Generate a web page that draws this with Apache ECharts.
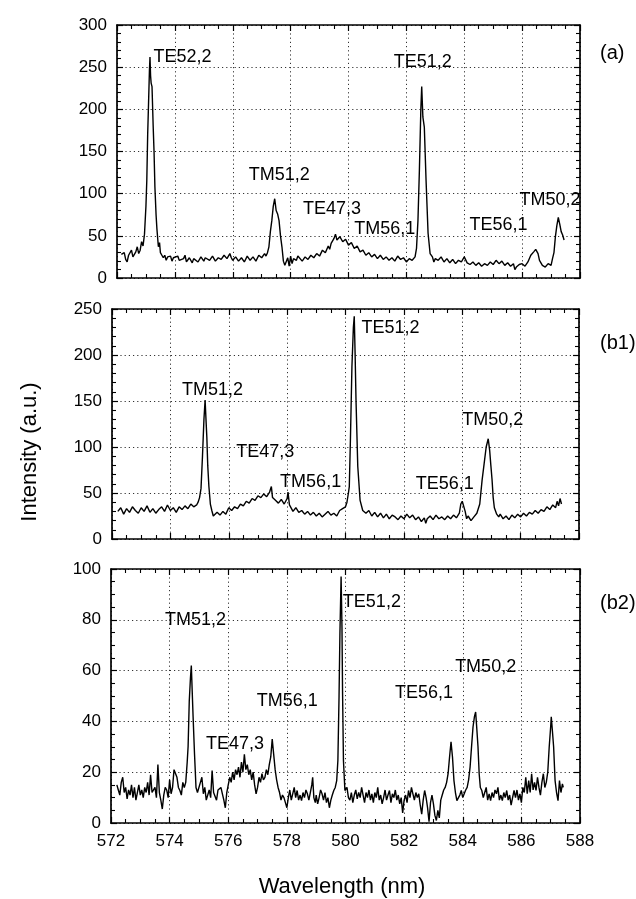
<!DOCTYPE html>
<html><head><meta charset="utf-8">
<script src="https://cdn.jsdelivr.net/npm/echarts@6/dist/echarts.min.js"></script>
<style>html,body{margin:0;padding:0;background:#fff}#c{width:636px;height:899px}</style>
</head><body><div id="c"></div>
<script>
// ---------- data ----------
const xTicks = [572, 574, 576, 578, 580, 582, 584, 586, 588];
const yTicksA = [0, 50, 100, 150, 200, 250, 300];
const yTicksB1 = [0, 50, 100, 150, 200, 250];
const yTicksB2 = [0, 20, 40, 60, 80, 100];

// panel (a): [wavelength nm, intensity]
const specA = [
[572.15,28],[572.2,27],[572.25,30],[572.3,22],[572.35,19],[572.4,27],[572.45,29],[572.5,33],[572.55,25],[572.6,23],[572.65,31],[572.7,37],[572.75,29],[572.8,33],[572.85,43],[572.9,38],[572.95,52],
[573.0,85],[573.03,116],[573.06,170],[573.09,207],[573.12,245],[573.14,262],[573.16,240],[573.18,231],[573.21,227],[573.25,180],[573.28,150],[573.31,108],[573.35,75],[573.38,58],[573.43,37],[573.47,42],[573.5,30],[573.55,27],[573.6,24],[573.65,27],[573.7,21],[573.75,25],[573.8,23],[573.85,26],[573.9,20],[573.95,24],[574.0,22],
[574.1,26],[574.15,21],[574.2,20],[574.3,23],[574.35,27],[574.4,19],[574.5,24],[574.6,18],[574.65,23],[574.7,22],[574.8,19],[574.9,25],[575.0,20],[575.05,24],[575.1,23],[575.2,21],[575.3,26],[575.4,20],[575.5,24],[575.6,22],[575.7,27],[575.8,23],[575.9,29],[575.95,24],[576.0,21],[576.1,25],[576.2,20],[576.3,24],[576.4,19],[576.5,26],[576.6,21],[576.7,25],[576.8,20],[576.9,27],[577.0,24],[577.1,29],[577.15,26],[577.2,30],
[577.25,37],[577.3,55],[577.35,68],[577.4,85],[577.45,94],[577.5,80],[577.55,76],[577.6,68],[577.65,50],[577.7,37],[577.75,20],[577.8,15],[577.85,13],[577.9,24],[577.95,14],[578.0,26],[578.05,17],[578.1,23],[578.2,21],[578.25,26],[578.3,26],[578.4,20],[578.5,25],[578.6,22],[578.7,27],[578.8,24],[578.9,29],[579.0,26],[579.1,33],[579.2,30],[579.3,38],[579.35,34],[579.4,41],[579.5,47],[579.55,52],[579.6,45],[579.7,49],[579.8,43],[579.9,46],[580.0,39],[580.1,42],[580.2,35],[580.3,38],[580.4,31],[580.5,33],[580.6,27],[580.7,30],[580.8,25],[580.9,28],[581.0,23],[581.1,27],[581.2,22],[581.3,25],[581.4,21],[581.5,24],[581.6,20],[581.7,26],[581.8,22],[581.9,24],[582.0,19],[582.1,23],[582.2,21],[582.3,25],
[582.35,35],[582.4,68],[582.45,128],[582.5,200],[582.53,227],[582.57,191],[582.62,179],[582.68,116],[582.75,53],[582.82,29],[582.9,25],[582.95,19],[583.0,23],[583.1,21],[583.2,25],[583.3,19],[583.4,23],[583.5,18],[583.6,22],[583.7,17],[583.8,21],[583.9,19],[584.0,25],[584.1,18],[584.2,16],[584.3,19],[584.4,15],[584.5,18],[584.6,14],[584.7,17],[584.8,15],[584.9,19],[585.0,16],[585.1,21],[585.2,17],[585.3,20],[585.4,15],[585.5,18],[585.6,14],[585.7,17],[585.75,10],[585.8,13],[585.9,16],[586.0,17],[586.1,14],[586.2,19],
[586.3,27],[586.4,31],[586.47,34],[586.55,29],[586.6,21],[586.7,15],[586.8,13],[586.9,17],[587.0,15],[587.05,23],[587.1,30],[587.15,49],[587.2,62],[587.25,72],[587.3,64],[587.35,55],[587.4,51],[587.45,45]
];

// panel (b1)
const specB1 = [
[572.2,30],[572.3,34],[572.4,27],[572.5,33],[572.6,29],[572.7,35],[572.8,31],[572.9,28],[573.0,34],[573.1,30],[573.2,36],[573.3,29],[573.4,33],[573.5,28],[573.6,32],[573.7,35],[573.8,30],[573.9,37],[574.0,31],[574.1,34],[574.2,29],[574.3,35],[574.4,32],[574.5,36],[574.6,33],[574.7,38],[574.8,35],[574.9,37],
[574.95,40],[575.0,45],[575.05,55],[575.1,90],[575.15,130],[575.19,151],[575.22,130],[575.25,110],[575.28,80],[575.32,57],[575.37,38],[575.42,31],[575.47,25],[575.52,23],[575.6,29],[575.7,26],[575.8,30],[575.9,27],[576.0,34],[576.1,31],[576.2,35],[576.3,33],[576.4,38],[576.5,36],[576.6,41],[576.7,39],[576.8,44],[576.9,42],[577.0,47],[577.1,45],[577.2,49],[577.3,46],[577.4,51],[577.46,57],[577.5,45],[577.6,42],[577.7,39],[577.8,43],[577.9,38],[578.0,44],[578.03,51],[578.08,37],[578.15,33],[578.2,30],[578.3,34],[578.4,29],[578.5,31],[578.6,27],[578.7,30],[578.8,26],[578.9,29],[579.0,25],[579.1,28],[579.2,24],[579.3,27],[579.4,30],[579.5,26],[579.6,28],[579.7,25],[579.8,31],[579.9,33],[580.0,35],
[580.05,40],[580.1,50],[580.13,57],[580.17,110],[580.22,187],[580.27,230],[580.3,242],[580.33,200],[580.36,151],[580.42,79],[580.5,42],[580.59,31],[580.7,28],[580.8,31],[580.9,25],[581.0,29],[581.1,24],[581.2,28],[581.3,23],[581.4,27],[581.5,22],[581.6,26],[581.7,24],[581.8,21],[581.9,25],[582.0,22],[582.1,27],[582.2,23],[582.3,26],[582.4,21],[582.5,24],[582.6,19],[582.7,23],[582.75,17],[582.8,22],[582.9,25],[583.0,21],[583.1,26],[583.2,22],[583.3,24],[583.4,21],[583.5,25],[583.6,22],[583.7,26],[583.8,23],[583.9,28],
[583.95,38],[584.0,41],[584.05,40],[584.1,30],[584.15,22],[584.2,25],[584.3,20],[584.4,24],[584.5,28],[584.6,38],[584.68,64],[584.75,82],[584.82,100],[584.89,109],[584.94,96],[584.98,80],[585.02,65],[585.06,45],[585.1,34],[585.18,27],[585.25,24],[585.3,27],[585.4,22],[585.5,25],[585.6,21],[585.7,26],[585.8,23],[585.9,27],[586.0,24],[586.1,28],[586.2,25],[586.3,29],[586.4,27],[586.5,31],[586.6,28],[586.7,32],[586.8,30],[586.9,35],[587.0,32],[587.1,37],[587.2,34],[587.25,41],[587.3,36],[587.35,44],[587.4,38]
];

// panel (b2)
const specB2 = [
[572.2,15],[572.25,13],[572.3,11],[572.35,16],[572.4,18],[572.45,12],[572.5,14],[572.55,9.5],[572.6,13],[572.65,11],[572.7,15],[572.75,10],[572.8,14],[572.85,9],[572.9,12],[572.95,15],[573.0,11],[573.05,13],[573.1,10],[573.15,14],[573.2,12],[573.25,16],[573.3,11],[573.35,19],[573.4,12],[573.45,11.5],[573.5,14],[573.55,10],[573.6,23],[573.65,12],[573.7,9],[573.75,5.5],[573.8,11],[573.85,14],[573.9,13],[573.95,10],[574.0,17],[574.05,11.5],[574.1,14],[574.15,21],[574.2,20.7],[574.25,18],[574.3,14],[574.35,12.8],[574.4,11],[574.45,16],[574.5,14],[574.55,16],
[574.6,24],[574.63,30],[574.67,48],[574.71,57],[574.74,62],[574.77,52],[574.8,42],[574.85,27],[574.9,14],[574.95,12],[575.0,11.5],[575.05,16],[575.1,18],[575.15,11.5],[575.2,14],[575.25,9],[575.3,8.8],[575.35,13],[575.4,10],[575.45,20.7],[575.5,12],[575.55,11.5],[575.6,9],[575.65,13],[575.7,12.8],[575.75,14],[575.8,11.5],[575.85,9],[575.9,6],[575.95,12],[576.0,15],[576.05,18],[576.1,16],[576.15,20],[576.2,17],[576.25,21],[576.3,19],[576.35,22],[576.4,18],[576.45,24],[576.5,20],[576.55,27],[576.6,21],[576.65,23],[576.7,19],[576.75,21],[576.8,17],[576.85,20],[576.9,15],[576.95,11.5],[577.0,14],[577.05,18],[577.1,16],[577.15,19.4],[577.2,17],[577.25,18],[577.3,21],[577.35,19],[577.4,23],[577.45,26],[577.5,33],[577.55,27],[577.6,21],[577.65,17],[577.7,14],
[577.75,12],[577.8,9],[577.85,11],[577.9,10],[577.95,8],[578.0,6],[578.05,10],[578.1,13],[578.15,9],[578.2,11.5],[578.25,14],[578.3,10],[578.35,12.8],[578.4,9],[578.45,11],[578.5,8.8],[578.55,12],[578.6,10],[578.65,13],[578.7,11.5],[578.75,9],[578.8,12],[578.85,15],[578.88,18],[578.92,10],[578.97,8],[579.0,11],[579.05,7.5],[579.1,10],[579.15,13],[579.2,11.5],[579.25,9],[579.3,12],[579.35,8],[579.4,10],[579.45,6],[579.5,9],[579.55,11],[579.6,12.8],[579.65,14],[579.7,16.7],
[579.74,24.6],[579.78,50],[579.81,75],[579.85,97],[579.88,77],[579.9,51],[579.93,24.6],[579.98,12.8],[580.05,14],[580.1,10],[580.15,9],[580.2,12],[580.25,8],[580.3,11],[580.35,13],[580.4,9.5],[580.45,12],[580.5,10],[580.55,14],[580.6,11],[580.65,8],[580.7,12],[580.75,10],[580.8,13],[580.85,9],[580.9,11.5],[580.95,8],[581.0,12],[581.05,10],[581.1,14],[581.15,9],[581.2,11],[581.25,7.5],[581.3,10],[581.35,13],[581.4,9],[581.45,11],[581.5,12.8],[581.55,8],[581.6,11.5],[581.65,10],[581.7,13],[581.75,9],[581.8,11],[581.85,7.5],[581.9,10],[581.95,4],[582.0,9],[582.05,11],[582.1,8],[582.15,12.8],[582.2,10],[582.25,14],[582.3,11.5],[582.35,9],[582.4,12],[582.45,10],[582.5,11.5],[582.55,7],[582.6,3.5],[582.65,9],[582.7,12.8],[582.75,10],[582.8,6],[582.85,0.5],[582.9,8],[582.95,11],[583.0,7.5],[583.05,3],[583.1,1],[583.15,5],[583.2,2],[583.25,9],[583.3,11],[583.35,13],[583.4,14],[583.45,16],
[583.5,19.4],[583.55,26],[583.6,32],[583.65,26],[583.7,16.7],[583.75,12],[583.8,8.8],[583.85,8.2],[583.9,11],[583.95,12.8],[584.0,10],[584.05,11.5],[584.1,13],[584.15,14],[584.2,17],[584.25,22],[584.3,30],[584.35,37.8],[584.4,42],[584.44,43.7],[584.48,37],[584.52,30],[584.56,19.4],[584.6,14],[584.65,12.8],[584.7,10],[584.75,12],[584.8,14],[584.85,9],[584.9,11.5],[584.95,8.8],[585.0,12],[585.05,10],[585.1,13],[585.15,11.5],[585.2,14],[585.25,9],[585.3,11],[585.35,8.8],[585.4,12],[585.45,10],[585.5,12.8],[585.55,9],[585.6,11],[585.65,7],[585.7,10],[585.75,12.8],[585.8,10],[585.85,13],[585.9,9],[585.95,11.5],[586.0,8],
[586.05,14],[586.1,12],[586.15,18],[586.2,11.5],[586.25,16.7],[586.3,12],[586.35,19.4],[586.4,13],[586.45,16],[586.5,12.8],[586.55,18],[586.6,14],[586.65,11],[586.7,16],[586.75,19.4],[586.8,14],[586.85,16],[586.9,20],[586.95,30],[587.0,38],[587.02,41.8],[587.06,36],[587.1,30],[587.15,16.7],[587.2,12],[587.25,8.8],[587.3,16.7],[587.35,12],[587.4,15.4],[587.43,14]
];

// peak annotations: [text, wavelength, intensity] (text anchored by its left edge)
const notesA = [['TE52,2',573.26,262],['TM51,2',576.55,122],['TE47,3',578.43,82],['TM56,1',580.2,58],['TE51,2',581.56,256],['TE56,1',584.18,63],['TM50,2',585.91,93]];
const notesB1 = [['TM51,2',574.4,162],['TE47,3',576.26,95],['TM56,1',577.76,62],['TE51,2',580.55,229],['TE56,1',582.41,60],['TM50,2',584.0,129]];
const notesB2 = [['TM51,2',573.84,80],['TE47,3',575.24,31],['TM56,1',576.97,48],['TE51,2',579.91,87],['TE56,1',581.69,51],['TM50,2',583.74,61.5]];

const panelTags = ['(a)', '(b1)', '(b2)'];
const xTitle = 'Wavelength (nm)';
const yTitle = 'Intensity (a.u.)';

// ---------- chart ----------
const F = 'Liberation Sans, Arial, Helvetica, sans-serif';
const grids = [
  {left: 117, top: 25, width: 463, height: 253},
  {left: 112, top: 309, width: 467, height: 230},
  {left: 111, top: 569, width: 469, height: 254}
];
const yTicks = [yTicksA, yTicksB1, yTicksB2];
const yMinor = [5, 5, 4];
const specs = [specA, specB1, specB2];
const notes = [notesA, notesB1, notesB2];

const xAxis = [], yAxis = [], series = [];
const tick = {show: true, inside: true, length: 6, lineStyle: {color: '#000', width: 1.2}};
const minor = n => ({show: true, splitNumber: n, length: 4, lineStyle: {color: '#000', width: 1.1}});
const line = {show: true, onZero: false, lineStyle: {color: '#000', width: 1.7}};
const split = {show: true, lineStyle: {color: '#333', type: [1.2, 3], width: 1}};

grids.forEach((g, i) => {
  const xmin = xTicks[0], xmax = xTicks[xTicks.length - 1], xint = xTicks[1] - xTicks[0];
  const yt = yTicks[i];
  const ymin = yt[0], ymax = yt[yt.length - 1], yint = yt[1] - yt[0];
  xAxis.push({
    type: 'value', gridIndex: i, position: 'bottom', min: xmin, max: xmax, interval: xint,
    axisLine: line, axisTick: tick, minorTick: minor(4),
    splitLine: split,
    axisLabel: {show: i === 2, fontSize: 17, color: '#000', fontFamily: F, margin: 10}
  });
  xAxis.push({
    type: 'value', gridIndex: i, position: 'top', min: xmin, max: xmax, interval: xint,
    axisLine: line, axisTick: tick, minorTick: minor(4),
    splitLine: {show: false}, axisLabel: {show: false}
  });
  yAxis.push({
    type: 'value', gridIndex: i, position: 'left', min: ymin, max: ymax, interval: yint,
    axisLine: line, axisTick: tick, minorTick: minor(yMinor[i]),
    splitLine: split,
    axisLabel: {show: true, fontSize: 17, color: '#000', fontFamily: F, margin: 10}
  });
  yAxis.push({
    type: 'value', gridIndex: i, position: 'right', min: ymin, max: ymax, interval: yint,
    axisLine: line, axisTick: tick, minorTick: minor(yMinor[i]),
    splitLine: {show: false}, axisLabel: {show: false}
  });
  series.push({
    type: 'line', xAxisIndex: 2 * i, yAxisIndex: 2 * i, data: specs[i],
    showSymbol: false, symbol: 'none', smooth: false, animation: false,
    lineStyle: {color: '#000', width: 1.4}, z: 5
  });
  series.push({
    type: 'scatter', xAxisIndex: 2 * i, yAxisIndex: 2 * i, symbolSize: 0, silent: true, animation: false,
    itemStyle: {opacity: 1, color: '#000'},
    data: notes[i].map(n => ({name: n[0], value: [n[1], n[2]]})),
    label: {show: true, position: 'right', distance: 0, formatter: '{b}', fontSize: 18, color: '#000', opacity: 1, fontFamily: F},
    z: 6
  });
});

const tagY = [53, 343, 603];
const graphic = [
  {type: 'text', x: 30, y: 452, rotation: Math.PI / 2,
   style: {text: yTitle, font: '22px ' + F, fill: '#000', textAlign: 'center', textVerticalAlign: 'middle'}},
  {type: 'text', x: 342, y: 887,
   style: {text: xTitle, font: '22px ' + F, fill: '#000', textAlign: 'center', textVerticalAlign: 'middle'}}
];
panelTags.forEach((t, i) => graphic.push({type: 'text', x: 600, y: tagY[i],
  style: {text: t, font: '20px ' + F, fill: '#000', textAlign: 'left', textVerticalAlign: 'middle'}}));

const chart = echarts.init(document.getElementById('c'), null, {renderer: 'canvas'});
chart.setOption({
  backgroundColor: '#fff', animation: false,
  grid: grids.map(g => Object.assign({containLabel: false}, g)),
  xAxis, yAxis, series, graphic
});
</script></body></html>
